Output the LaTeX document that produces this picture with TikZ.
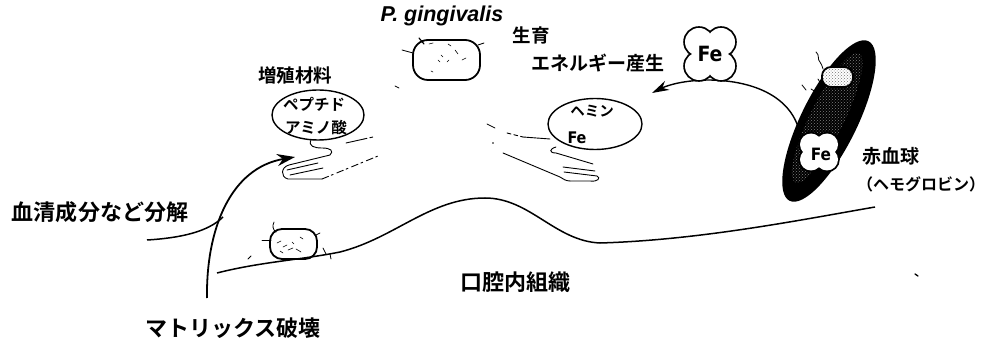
\documentclass[tikz,border=0pt]{standalone}
\usepackage{fontspec}
\newfontfamily\jp{Noto Sans CJK JP}[BoldFont={Noto Sans CJK JP Bold}]
\newfontfamily\latin{Liberation Sans}
\newfontfamily\fefont{DejaVu Sans Condensed}[BoldFont={DejaVu Sans Condensed Bold}]
\usetikzlibrary{arrows.meta,patterns,calc,shapes.geometric}

\tikzset{
  jbig/.style={inner sep=0pt, font=\jp\bfseries\fontsize{22}{24}\selectfont},
  jmid/.style={inner sep=0pt, font=\jp\bfseries\fontsize{18.5}{20}\selectfont},
  jsmall/.style={inner sep=0pt, font=\jp\bfseries\fontsize{15.5}{17}\selectfont},
  felabel/.style={inner sep=0pt, font=\fefont\bfseries\fontsize{#1}{#1}\selectfont},
  cell/.style={draw, line width=1.8pt, rounded corners=#1, inner sep=0pt},
  bubble/.style={draw, line width=1.4pt, ellipse, inner sep=0pt},
  sketch/.style={line width=0.9pt, line cap=round},
  hair/.style={line width=0.8pt, line cap=round},
  bigarrow/.style={line width=1.8pt, -{Stealth[length=18pt, width=12pt]}},
  arcarrow/.style={line width=1.4pt, -{Stealth[length=17pt, width=10pt]}},
  % four-lobed iron badge: lobes at (+-dx, +-dy) with radius r
  pics/fecross/.style args={#1/#2/#3}{code={
    \foreach \sx in {-1,1}{\foreach \sy in {-1,1}{
      \draw[line width=3.6pt] (\sx*#1,\sy*#2) circle[radius=#3 pt];}}
    \foreach \sx in {-1,1}{\foreach \sy in {-1,1}{
      \fill[white] (\sx*#1,\sy*#2) circle[radius=#3 pt];}}
    \fill[white] (-#1,-#2) rectangle (#1,#2);
  }}
}

\begin{document}
\begin{tikzpicture}[x=1pt, y=-1pt]
\useasboundingbox[fill=white] (0,0) rectangle (987,347);

% ---- oral tissue surface ----
\draw[line width=1.5pt] (217,273) .. controls (260,262) and (300,260) .. (340,252)
   .. controls (395,238) and (430,198) .. (485,198)
   .. controls (530,198) and (555,241) .. (600,243)
   .. controls (700,240) and (800,220) .. (875,207);

% ---- serum line and degradation arrow ----
\coordinate (serumStart) at (147,240);
\coordinate (arrowFoot) at (207,298);
\coordinate (arrowTip) at (295,157);
\coordinate (serumJoin) at (223,217);
\draw[line width=1.5pt] (serumStart) .. controls (180,238) and (208,232) .. (serumJoin);
\draw[bigarrow] (arrowFoot) .. controls (206,230) and (230,168) .. (arrowTip);

% ---- left hand (peptides) ----
\node[bubble, minimum width=92pt, minimum height=50pt] (ellPep) at (318,115) {};
\node[jsmall] (tPep) at (314,104) {ペプチド};
\node[jsmall] (tAmi) at (316,128) {アミノ酸};
\draw[sketch] (311,140) .. controls (308,146) and (314,148) .. (322,148)
   .. controls (331,148) and (334,151) .. (330,155) -- (289,165)
   .. controls (281,167) and (280,177) .. (288,179) -- (322,179);
\draw[sketch, dash pattern=on 7pt off 3pt on 2pt off 4pt] (322,179) -- (378,156);
\draw[sketch] (287,170) -- (318,163);
\draw[sketch] (290,175) -- (323,168);
\draw[sketch] (346,143) -- (364,139);
\draw[sketch, dash pattern=on 3pt off 3pt] (364,139) -- (373,137);
\draw[hair] (395,86) -- (399,88);

% ---- right hand (hemin) ----
\node[bubble, minimum width=94pt, minimum height=51pt] (ellHem) at (595,124) {};
\node[inner sep=0pt, font=\jp\bfseries\fontsize{14.5}{16}\selectfont] (tHem) at (592,111) {ヘミン};
\node[felabel=16] (tFe) at (577,138) {Fe};
\draw[sketch] (556,147) .. controls (549,149) and (549,153) .. (556,153) -- (593,164);
\draw[sketch] (563,167) -- (595,171);
\draw[sketch] (564,172) -- (597,176) .. controls (601,178) and (598,182) .. (590,181) -- (570,181);
\draw[sketch] (503,153) -- (560,177) .. controls (563,179) and (566,181) .. (570,181);
\draw[sketch] (523,137) -- (550,139);
\draw[sketch, dash pattern=on 4pt off 3pt] (507,133) -- (523,137);
\draw[hair] (487,124) -- (495,128);
\fill (493,143) circle[radius=0.9pt];

% ---- P. gingivalis cell (top) ----
\node[cell=15pt, minimum width=67pt, minimum height=40pt] (pgTop) at (446.5,60) {};
\node[inner sep=0pt, font=\latin\bfseries\itshape\fontsize{21.5}{24}\selectfont] (tPg) at (442,16) {P. gingivalis};
\draw[hair] (402,50) -- (413,53);
\draw[hair, line width=1.2pt] (419,38) -- (424,44);
\draw[hair] (478,45) -- (484,43);
\foreach \p/\q in {{(429,44)}/{(433,43)}, {(448,44)}/{(451,46)}, {(455,50)}/{(458,54)}, {(441,55)}/{(443,57)},
                   {(447,62)}/{(449,60)}, {(462,60)}/{(466,58)}, {(431,71)}/{(433,72)}, {(438,60)}/{(440,62)}}
  \draw[hair, line width=0.6pt] \p -- \q;

% ---- P. gingivalis cell on tissue ----
\node[cell=12pt, minimum width=47pt, minimum height=30pt] (pgLow) at (293.5,244) {};
\draw[hair] (262,240) -- (271,240);
\draw[hair] (274,222) .. controls (272,226) and (273,230) .. (276,232);
\draw[hair] (316,235) -- (320,233);
\draw[hair] (323,248) -- (326,254);
\draw[hair] (330,254) -- (331,259);
\draw[hair] (248,259) -- (251,256);
\foreach \p/\q in {{(277,243)}/{(281,241)}, {(283,247)}/{(287,245)}, {(288,250)}/{(293,248)}, {(296,249)}/{(301,252)},
                   {(300,237)}/{(303,239)}, {(280,251)}/{(283,253)}, {(292,242)}/{(294,244)}}
  \draw[hair, line width=0.6pt] \p -- \q;

% ---- labels ----
\node[jmid] (tZou) at (295,75) {増殖材料};
\node[jbig] (tSerum) at (100,212) {血清成分など分解};
\node[jbig] (tMatrix) at (233,328) {マトリックス破壊};
\node[jbig] (tTissue) at (515,282) {口腔内組織};
\node[jmid] (tGrow) at (531,35) {生育};
\node[inner sep=0pt, font=\jp\bfseries\fontsize{19}{21}\selectfont] (tEnergy) at (598,63) {エネルギー産生};

% ---- erythrocyte ----
\fill[black, rotate around={63.7:(829,121)}] (829,121) ellipse[x radius=89pt, y radius=28pt];
\fill[pattern=crosshatch dots, pattern color=black!50, rotate around={63.7:(829,121)}]
  (831,118) ellipse[x radius=72pt, y radius=17pt];
\node[cell=9pt, minimum width=31pt, minimum height=20pt, preaction={fill=white},
      pattern=crosshatch dots, pattern color=black!55] (pgRbc) at (837.5,77) {};
\draw[hair] (816,52) .. controls (820,55) and (817,60) .. (820,62) .. controls (823,64) and (821,67) .. (823,69);
\draw[hair] (802,85) -- (806,90);
\draw[hair] (811,89) -- (816,92);
\draw[hair] (818,79) -- (821,84);
\node[inner sep=0pt, font=\jp\bfseries\fontsize{19}{21}\selectfont] (tRbc) at (891,156) {赤血球};
\node[inner sep=0pt, font=\jp\bfseries\fontsize{16}{18}\selectfont] (tHb) at (921,184) {（ヘモグロビン）};

% ---- iron transfer arc ----
\coordinate (arcStart) at (801,146);
\coordinate (arcTop) at (710,80);
\coordinate (arcEnd) at (652,93);
\draw[arcarrow] (arcStart) .. controls (801,105) and (765,81) .. (arcTop)
   .. controls (685,80) and (668,85) .. (arcEnd);

% ---- iron badges ----
\pic at (710,54) {fecross=11/12/14};
\node[felabel=21] (feTop) at (710,54) {Fe};
\pic at (819,152) {fecross=8/7.5/11};
\node[felabel=17] (feRbc) at (821,154) {Fe};

% stray speck
\draw[hair, line width=1.3pt] (915,274) -- (918,276);
\end{tikzpicture}
\end{document}
